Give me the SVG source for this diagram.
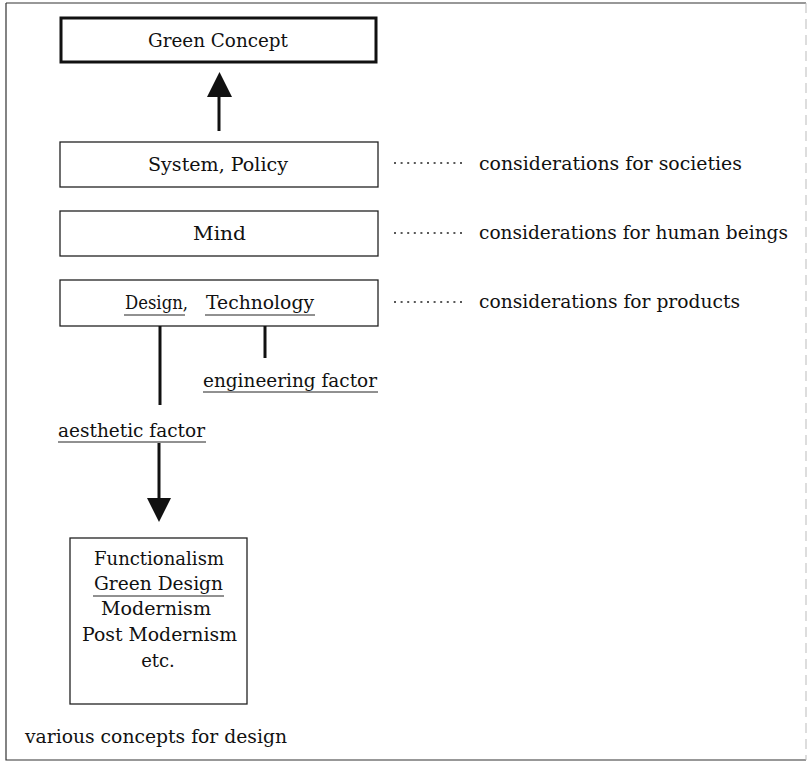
<svg xmlns="http://www.w3.org/2000/svg" width="808" height="764" viewBox="0 0 808 764">
<style>
text{font-family:"DejaVu Serif","Liberation Serif",serif;font-size:18px;fill:#111}
.box{fill:#fff;stroke:#222;stroke-width:1.3}
.thick{fill:#fff;stroke:#111;stroke-width:3}
.ln{stroke:#111;stroke-width:3;fill:none}
.dot{stroke:#222;stroke-width:1.5;stroke-dasharray:2 4.6;fill:none}
.ul{stroke:#222;stroke-width:1}
</style>
<rect x="0" y="0" width="808" height="764" fill="#fff"/>
<path d="M6 3 H806" stroke="#333" stroke-width="1.2"/>
<path d="M6 3 V760 H806" stroke="#333" stroke-width="1.2" fill="none"/>
<path d="M806 3 V760" stroke="#bbb" stroke-width="1" stroke-dasharray="10 6"/>
<g id="green-concept">
<rect class="thick" x="61" y="18" width="315" height="44"/>
<text x="148" y="47" textLength="140" lengthAdjust="spacingAndGlyphs">Green Concept</text>
</g>
<g id="system-policy">
<rect class="box" x="60" y="142" width="318" height="45"/>
<text x="148" y="171" textLength="140" lengthAdjust="spacingAndGlyphs">System, Policy</text>
</g>
<g id="mind">
<rect class="box" x="60" y="211" width="318" height="45"/>
<text x="193" y="240" textLength="53" lengthAdjust="spacingAndGlyphs">Mind</text>
</g>
<g id="design-technology">
<rect class="box" x="60" y="280" width="318" height="46"/>
<text x="125" y="309" textLength="63" lengthAdjust="spacingAndGlyphs">Design,</text>
<text x="206" y="309" textLength="108" lengthAdjust="spacingAndGlyphs">Technology</text>
<path class="ul" d="M124 315 H185 M205 315 H315"/>
</g>
<g id="note-societies"><text x="479" y="170" textLength="263" lengthAdjust="spacingAndGlyphs">considerations for societies</text></g>
<g id="note-human"><text x="479" y="239" textLength="309" lengthAdjust="spacingAndGlyphs">considerations for human beings</text></g>
<g id="note-products"><text x="479" y="308" textLength="261" lengthAdjust="spacingAndGlyphs">considerations for products</text></g>
<g id="engineering-factor">
<text x="203" y="387" textLength="174" lengthAdjust="spacingAndGlyphs">engineering factor</text>
<path class="ul" d="M203 392 H378"/>
</g>
<g id="aesthetic-factor">
<text x="58" y="437" textLength="147" lengthAdjust="spacingAndGlyphs">aesthetic factor</text>
<path class="ul" d="M58 442 H206"/>
</g>
<g id="design-concepts">
<rect class="box" x="70" y="538" width="177" height="166"/>
<text x="94" y="565" textLength="130" lengthAdjust="spacingAndGlyphs">Functionalism</text>
<text x="94" y="590" textLength="129" lengthAdjust="spacingAndGlyphs">Green Design</text>
<path class="ul" d="M93 596 H224"/>
<text x="101" y="615" textLength="110" lengthAdjust="spacingAndGlyphs">Modernism</text>
<text x="82" y="641" textLength="155" lengthAdjust="spacingAndGlyphs">Post Modernism</text>
<text x="158" y="667" text-anchor="middle">etc.</text>
</g>
<g id="various-concepts"><text x="25" y="743" textLength="262" lengthAdjust="spacingAndGlyphs">various concepts for design</text></g>
<g id="connectors">
<path class="ln" d="M219 131 V95"/>
<polygon points="207,97 232,97 219.5,72" fill="#111"/>
<path class="dot" d="M394 163 H464 M394 233 H464 M394 302 H464"/>
<path class="ln" d="M160 326 V405"/>
<path class="ln" d="M265 326 V358"/>
<path class="ln" d="M159 443 V500"/>
<polygon points="147,498 171,498 159,522" fill="#111"/>
</g>
</svg>
